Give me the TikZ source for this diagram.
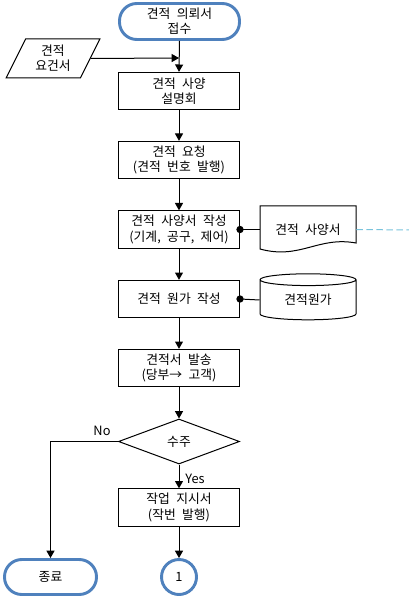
\documentclass[tikz,border=0pt]{standalone}
\usepackage{fontspec}
\setmainfont{Noto Sans CJK KR}
\usepackage{tikz}
\usetikzlibrary{arrows.meta,positioning,calc,shapes.geometric}
\definecolor{termblue}{RGB}{79,129,189}
\definecolor{linkcyan}{RGB}{120,195,220}
\newcommand{\flowfont}{\fontsize{9.6pt}{11.5pt}\selectfont\spaceskip=0.5em\relax}

\begin{document}
\begin{tikzpicture}[x=0.75pt, y=-0.75pt,
    font=\flowfont,
    box/.style={draw, line width=0.75pt, align=center, minimum width=90.75pt, minimum height=28pt, inner sep=0pt},
    term/.style={draw=termblue, line width=2.2pt, rounded corners=13pt, align=center, inner sep=0pt},
    flow/.style={-{Triangle[length=5.5pt,width=6pt]}, line width=0.75pt},
    dot/.style={circle, fill, inner sep=0pt, minimum size=5.5pt}]
    \useasboundingbox (0,0) rectangle (409,598);

    % Start
    \node[term, minimum width=90pt, minimum height=27pt] (recv) at (179.5,21.5) {견적 의뢰서\\접수};

    % Input document
    \node[draw, line width=0.75pt, trapezium, trapezium left angle=65, trapezium right angle=115,
          trapezium stretches=true, minimum width=70.5pt, minimum height=29.25pt, align=center, inner sep=0pt]
          (req) at (53,58.5) {견적\\요건서};
    \coordinate (join) at (179,58);

    % Process steps
    \node[box] (brief) at (179,91) {견적 사양\\설명회};
    \node[box] (ask) at (179,160) {견적 요청\\(견적 번호 발행)};
    \node[box] (spec) at (179,229.5) {견적 사양서 작성\\(기계, 공구, 제어)};
    \node[box] (cost) at (179,299) {견적 원가 작성};
    \node[box] (send) at (179,368) {견적서 발송\\(당부→ 고객)};

    % Decision
    \node[draw, line width=0.75pt, diamond, aspect=2.7, minimum width=90.75pt, minimum height=33.75pt, inner sep=0pt]
          (order) at (179,441.5) {수주};
    \node[box] (work) at (179,507.5) {작업 지시서\\(작번 발행)};

    % Ends
    \node[term, minimum width=69pt, minimum height=26.25pt] (stop) at (50.5,577) {종료};
    \node[term, circle, minimum size=26.25pt] (next) at (179,577) {1};

    % Spec document
    \node[minimum width=72pt, minimum height=27pt, inner sep=0pt] (specdoc) at (308,229.5) {견적 사양서};
    \draw[line width=0.75pt] (260,206) -- (356,206) -- (356,243)
        .. controls (318,236) and (300,260) .. (260,249) -- cycle;
    \coordinate (outside) at (409,230);

    % Cost database
    \node[draw, line width=0.75pt, cylinder, shape border rotate=90, aspect=0.25,
          minimum width=72pt, minimum height=34.5pt, inner sep=0pt] (costdb) at (308,300) {견적원가};

    % Flow
    \draw[flow] (recv.south) -- (brief.north);
    \draw[flow] (req.east) -- (join);
    \draw[flow] (brief) -- (ask);
    \draw[flow] (ask) -- (spec);
    \draw[flow] (spec) -- (cost);
    \draw[flow] (cost) -- (send);
    \draw[flow] (send) -- (order);
    \draw[flow] (order) -- node[right, xshift=1pt, yshift=-2pt] {Yes} (work);
    \draw[flow] (order.west) -| (stop.north);
    \node at (102,431) {No};
    \draw[flow] (work) -- (next);

    % Attachments
    \draw[line width=0.75pt] (spec.east) -- (specdoc.west);
    \node[dot] at (spec.east) {};
    \draw[line width=0.75pt] (cost.east) -- (costdb.west);
    \node[dot] at (cost.east) {};
    \draw[linkcyan, line width=0.75pt, dash pattern=on 5pt off 2.5pt] (specdoc.east) -- (outside);
\end{tikzpicture}
\end{document}
